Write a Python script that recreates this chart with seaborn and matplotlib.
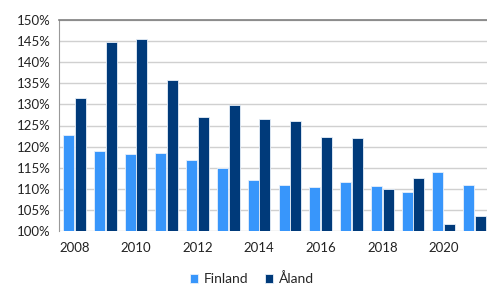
import numpy as np
import pandas as pd
import matplotlib
matplotlib.use("Agg")
import matplotlib.pyplot as plt
from matplotlib.ticker import FixedLocator, PercentFormatter
import seaborn as sns

# data
years = [2008, 2009, 2010, 2011, 2012, 2013, 2014,
         2015, 2016, 2017, 2018, 2019, 2020, 2021]
finland = [122.7, 119.0, 118.3, 118.6, 116.9, 114.9, 112.2,
           110.8, 110.4, 111.5, 110.7, 109.2, 113.9, 110.8]
aland = [131.4, 144.9, 145.6, 135.7, 127.1, 129.8, 126.5,
         126.0, 122.3, 122.1, 110.0, 112.6, 101.6, 103.5]
series_names = ["Finland", "Åland"]
colors = ["#3896FB", "#003A7A"]

df = pd.DataFrame({
    "year": years * 2,
    "value": finland + aland,
    "series": [series_names[0]] * len(years) + [series_names[1]] * len(years),
})

sns.set_style("white")
plt.rcParams["font.family"] = ["Lato", "DejaVu Sans"]

fig = plt.figure(figsize=(4.87, 2.84), dpi=100)
ax = fig.add_axes([59 / 487, 1 - 231 / 284, 431 / 487, 211 / 284])

sns.barplot(data=df, x="year", y="value", hue="series", palette=colors,
            saturation=1, width=0.76, gap=0.06, edgecolor="#E8F0FA", linewidth=0.6,
            ax=ax, legend=True)

ax.set_ylim(100, 150)
ax.set_xlim(-0.5, len(years) - 0.5)
ax.set_yticks(np.arange(100, 151, 5))
ax.yaxis.set_major_formatter(PercentFormatter(decimals=0))
ax.yaxis.grid(True, color="#D0D0D0", linewidth=1)
ax.set_axisbelow(True)

# labels every other year, tick marks at category boundaries
idx = list(range(0, len(years), 2))
ax.set_xticks(idx)
ax.set_xticklabels([str(years[i]) for i in idx])
ax.xaxis.set_minor_locator(FixedLocator(np.arange(-0.5, len(years), 1)))
ax.tick_params(axis="x", which="major", length=0, pad=8, labelsize=9.5, labelcolor="#222222")
ax.tick_params(axis="x", which="minor", length=3, color="#999999", width=0.8)
ax.tick_params(axis="y", length=3, color="#999999", width=0.8, pad=3,
               labelsize=9.5, labelcolor="#222222")

ax.set_xlabel("")
ax.set_ylabel("")
for side in ["right", "bottom"]:
    ax.spines[side].set_visible(False)
ax.spines["top"].set_color("#7F7F7F")
ax.spines["top"].set_linewidth(1.2)
ax.spines["left"].set_color("#999999")
ax.spines["left"].set_linewidth(0.8)

handles, labels = ax.get_legend_handles_labels()
ax.get_legend().remove()
fig.legend(handles, labels, loc="center", bbox_to_anchor=(252 / 487, 1 - 279 / 284),
           ncol=2, frameon=False, fontsize=10, handlelength=0.6, handleheight=0.6,
           handletextpad=0.4, columnspacing=1.2)

fig.savefig("out.png", dpi=100)
